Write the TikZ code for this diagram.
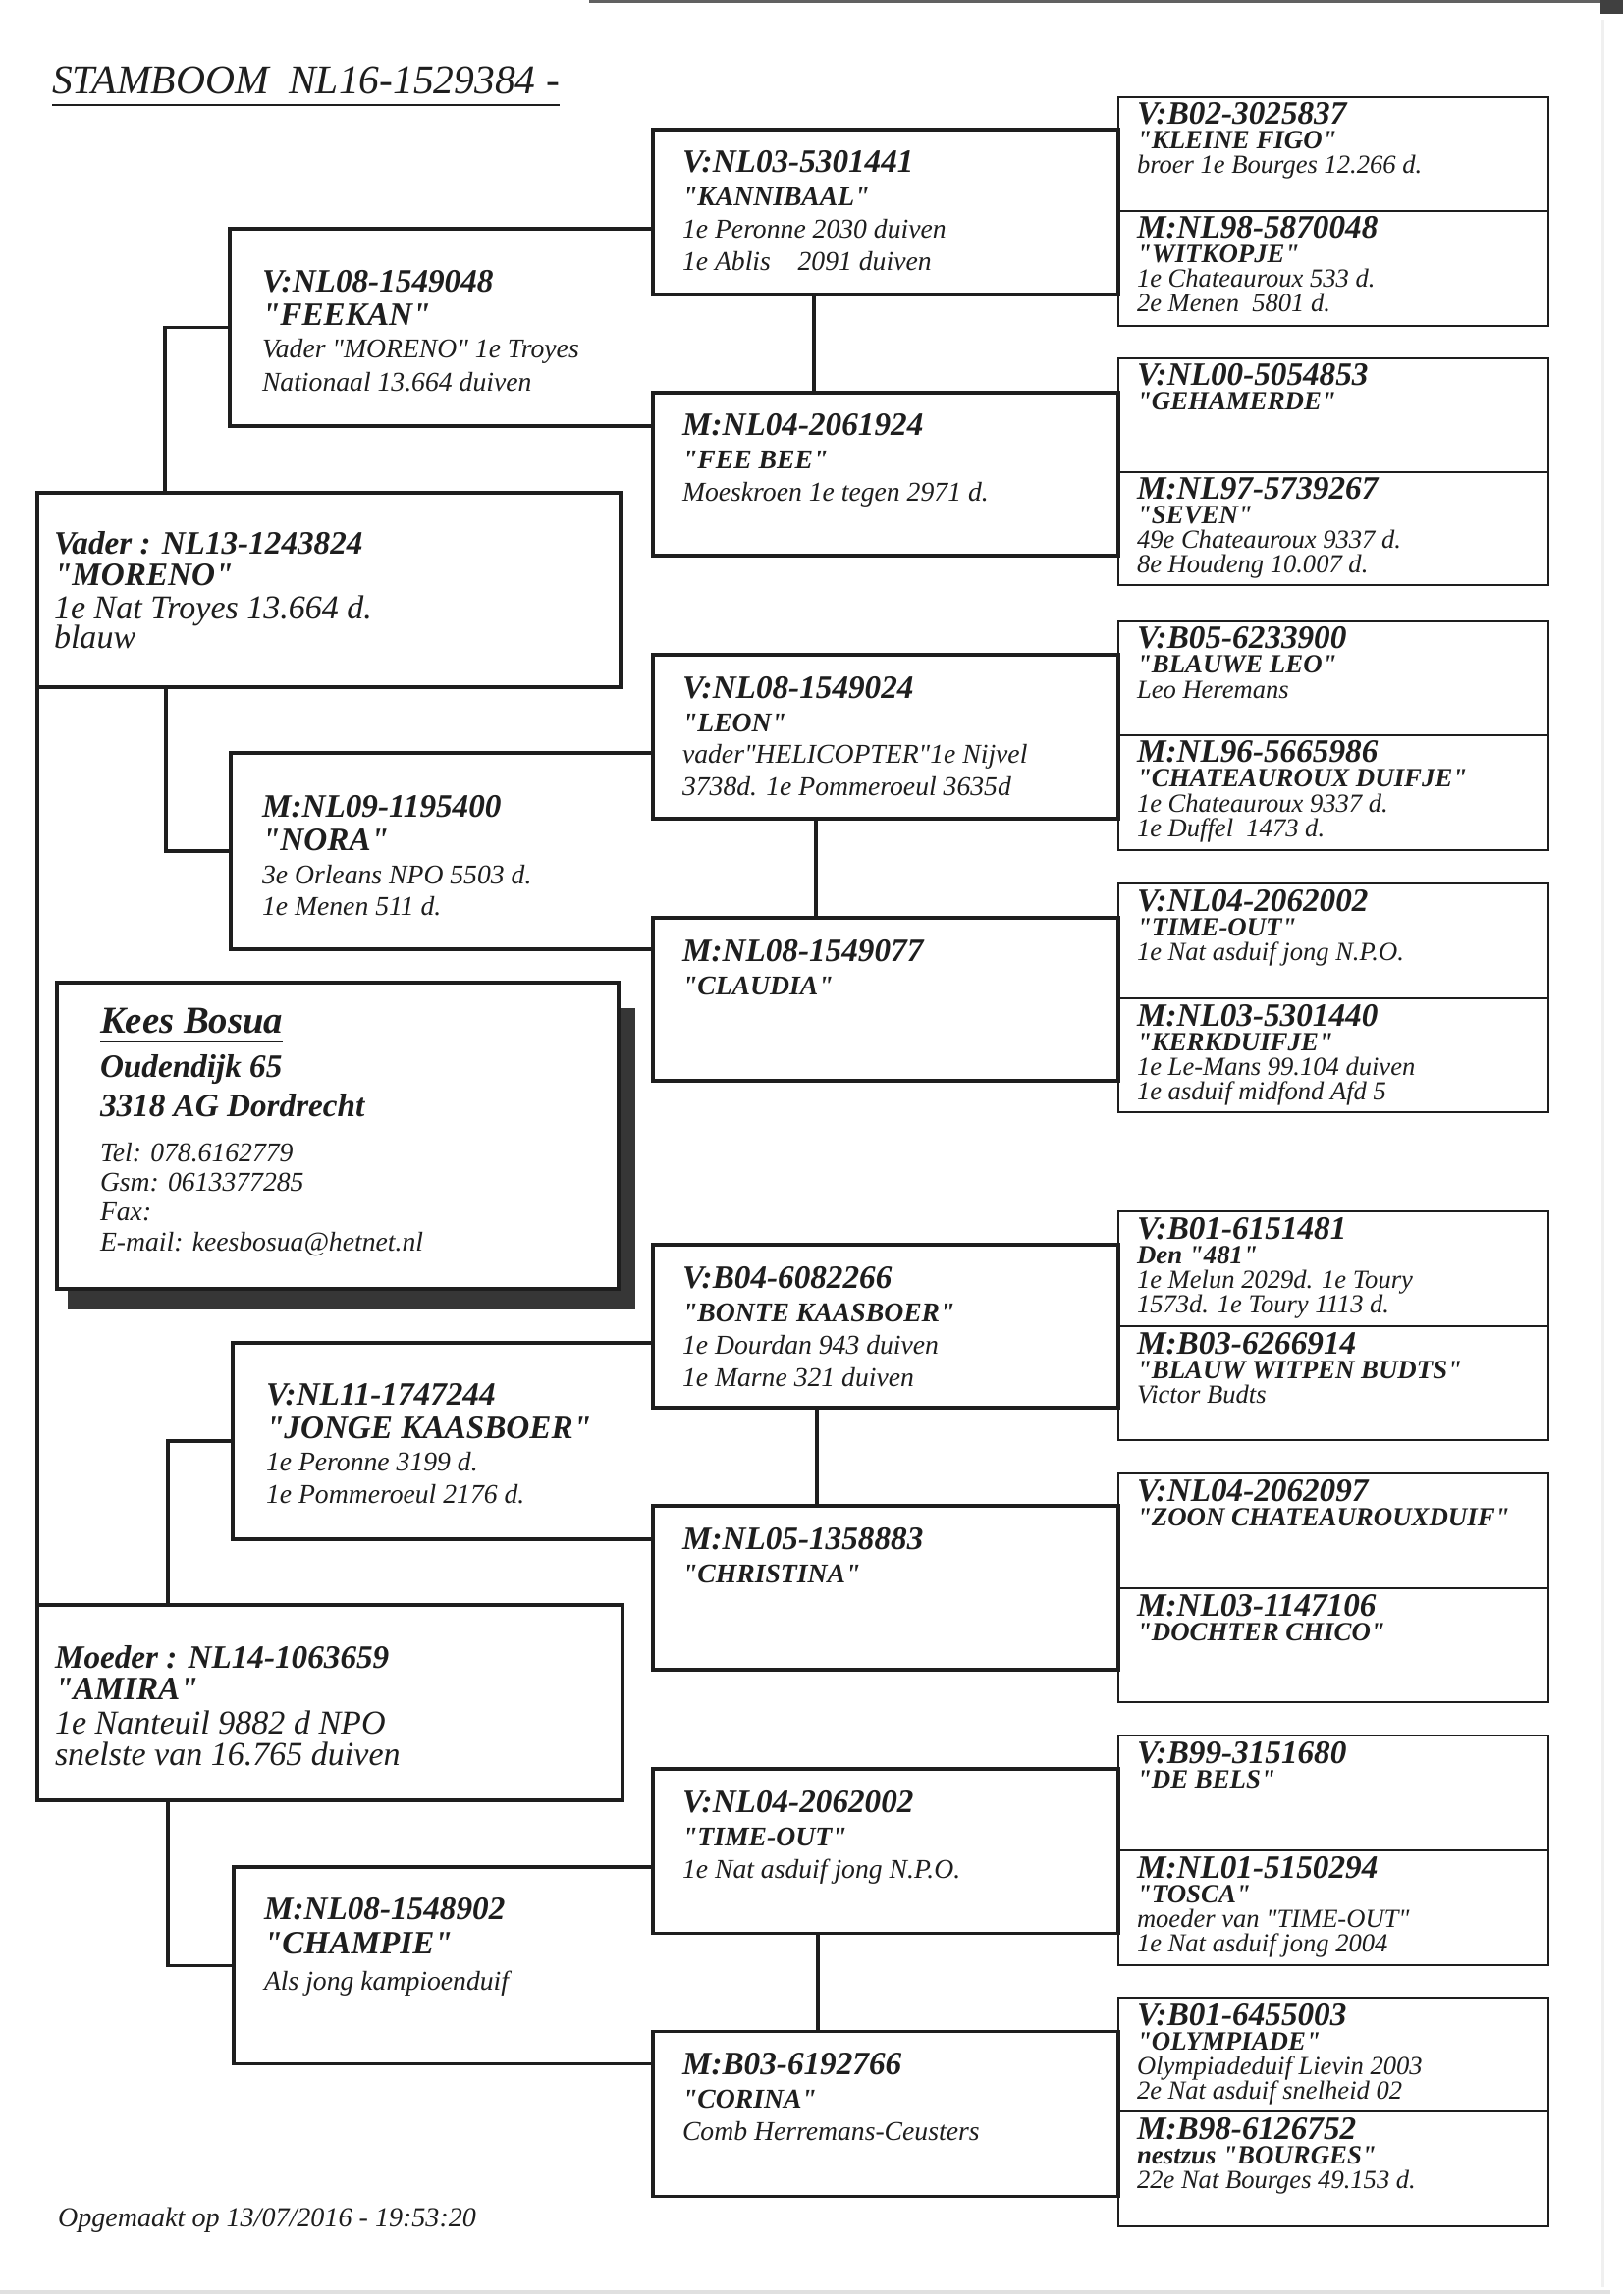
\documentclass[tikz,border=0pt]{standalone}
\usepackage{fontspec}
\setmainfont{Liberation Serif}
\newfontfamily\tnr{Liberation Serif}
\usetikzlibrary{fit,calc}
\definecolor{ink}{HTML}{1E1E1E}
\definecolor{cardshadow}{HTML}{363636}
\newcommand\fsz[1]{\tnr\fontsize{#1}{#1}\selectfont}
\tikzset{
  every node/.style={inner sep=0pt, outer sep=0pt},
  box/.style={draw=ink, line width=1.1pt},
  gbox/.style={draw=ink, line width=0.8pt},
  conn/.style={draw=ink, line width=1.1pt},
  txt/.style={anchor=base west, text=ink},
  ttl/.style={txt, font=\fsz{15}\itshape},
  foot/.style={txt, font=\fsz{10.15}\itshape},
  pid/.style={txt, font=\fsz{12}\bfseries\itshape},
  pdet/.style={txt, font=\fsz{12.3}\itshape},
  kbig/.style={txt, font=\fsz{14}\bfseries\itshape},
  kaddr/.style={txt, font=\fsz{12}\bfseries\itshape},
  ksmall/.style={txt, font=\fsz{10}\itshape},
  aid/.style={txt, font=\fsz{12}\bfseries\itshape},
  aname/.style={txt, font=\fsz{12}\bfseries\itshape},
  adet/.style={txt, font=\fsz{10}\itshape},
  bid/.style={txt, font=\fsz{12}\bfseries\itshape},
  bname/.style={txt, font=\fsz{10}\bfseries\itshape},
  bdet/.style={txt, font=\fsz{10}\itshape},
  gid/.style={txt, font=\fsz{12}\bfseries\itshape},
  gname/.style={txt, font=\fsz{9.7}\bfseries\itshape},
  gdet/.style={txt, font=\fsz{9.6}\itshape},
}
% generation-2 box: name, top, bottom, id, name line, detail 1, detail 2
\newcommand\gentwo[7]{%
  \node[box, fit={(665,#2) (1139,#3)}] (#1) {};
  \node[bid]  (#1-1) at (695,{#2+44})  {#4};
  \node[bname](#1-2) at (695,{#2+78})  {#5};
  \node[bdet] (#1-3) at (695,{#2+111}) {#6};
  \node[bdet] (#1-4) at (695,{#2+144}) {#7};
}
% generation-3 box: name, top, bottom, id, name line, detail 1, detail 2
\newcommand\genthree[7]{%
  \node[gbox, fit={(1139,#2) (1577,#3)}] (#1) {};
  \node[gid]  (#1-1) at (1158,{#2+28})  {#4};
  \node[gname](#1-2) at (1158,{#2+53})  {#5};
  \node[gdet] (#1-3) at (1158,{#2+78})  {#6};
  \node[gdet] (#1-4) at (1158,{#2+103}) {#7};
}
\begin{document}
\begin{tikzpicture}[x=0.36135pt,y=-0.36135pt]
\useasboundingbox (0,0) rectangle (1653,2339);
\fill[white] (0,0) rectangle (1653,2339);
% scan edges
\fill[ink!70] (600,0) rectangle (1653,3);
\fill[ink!85] (1630,0) rectangle (1653,14);
\fill[black!12] (0,2333) rectangle (1640,2337);
\fill[black!6] (1631,20) rectangle (1634,2330);

% title
\node[ttl] (title) at (53,96) {STAMBOOM\ \ NL16-1529384 -};
\draw[ink, line width=0.8pt] ([yshift=-4pt]title.base west) -- ([yshift=-4pt]title.base east);

% generation 3
\genthree{g1a}{99}{215}{V:B02-3025837}{"KLEINE FIGO"}{broer 1e Bourges 12.266 d.}{}
\genthree{g1b}{215}{332}{M:NL98-5870048}{"WITKOPJE"}{1e Chateauroux 533 d.}{2e Menen\ \ 5801 d.}
\genthree{g2a}{365}{481}{V:NL00-5054853}{"GEHAMERDE"}{}{}
\genthree{g2b}{481}{596}{M:NL97-5739267}{"SEVEN"}{49e Chateauroux 9337 d.}{8e Houdeng 10.007 d.}
\genthree{g3a}{633}{749}{V:B05-6233900}{"BLAUWE LEO"}{Leo Heremans}{}
\genthree{g3b}{749}{866}{M:NL96-5665986}{"CHATEAUROUX DUIFJE"}{1e Chateauroux 9337 d.}{1e Duffel\ \ 1473 d.}
\genthree{g4a}{900}{1017}{V:NL04-2062002}{"TIME-OUT"}{1e Nat asduif jong N.P.O.}{}
\genthree{g4b}{1017}{1133}{M:NL03-5301440}{"KERKDUIFJE"}{1e Le-Mans 99.104 duiven}{1e asduif midfond Afd 5}
\genthree{g5a}{1234}{1351}{V:B01-6151481}{Den "481"}{1e Melun 2029d. 1e Toury}{1573d. 1e Toury 1113 d.}
\genthree{g5b}{1351}{1467}{M:B03-6266914}{"BLAUW WITPEN BUDTS"}{Victor Budts}{}
\genthree{g6a}{1501}{1618}{V:NL04-2062097}{"ZOON CHATEAUROUXDUIF"}{}{}
\genthree{g6b}{1618}{1734}{M:NL03-1147106}{"DOCHTER CHICO"}{}{}
\genthree{g7a}{1768}{1885}{V:B99-3151680}{"DE BELS"}{}{}
\genthree{g7b}{1885}{2002}{M:NL01-5150294}{"TOSCA"}{moeder van "TIME-OUT"}{1e Nat asduif jong 2004}
\genthree{g8a}{2035}{2151}{V:B01-6455003}{"OLYMPIADE"}{Olympiadeduif Lievin 2003}{2e Nat asduif snelheid 02}
\genthree{g8b}{2151}{2268}{M:B98-6126752}{nestzus "BOURGES"}{22e Nat Bourges 49.153 d.}{}

% generation 2
\gentwo{kannibaal}{132}{300}{V:NL03-5301441}{"KANNIBAAL"}{1e Peronne 2030 duiven}{1e Ablis\ \ \ \ 2091 duiven}
\gentwo{feebee}{400}{566}{M:NL04-2061924}{"FEE BEE"}{Moeskroen 1e tegen 2971 d.}{}
\gentwo{leon}{667}{834}{V:NL08-1549024}{"LEON"}{vader"HELICOPTER"1e Nijvel}{3738d. 1e Pommeroeul 3635d}
\gentwo{claudia}{935}{1101}{M:NL08-1549077}{"CLAUDIA"}{}{}
\gentwo{bonte}{1268}{1434}{V:B04-6082266}{"BONTE KAASBOER"}{1e Dourdan 943 duiven}{1e Marne 321 duiven}
\gentwo{christina}{1534}{1701}{M:NL05-1358883}{"CHRISTINA"}{}{}
\gentwo{timeout}{1802}{1969}{V:NL04-2062002}{"TIME-OUT"}{1e Nat asduif jong N.P.O.}{}
\gentwo{corina}{2069}{2237}{M:B03-6192766}{"CORINA"}{Comb Herremans-Ceusters}{}

\draw[conn] ($(kannibaal.south west)+(164,0)$) -- ($(feebee.north west)+(164,0)$);
\draw[conn] ($(leon.south west)+(166,0)$) -- ($(claudia.north west)+(166,0)$);
\draw[conn] ($(bonte.south west)+(167,0)$) -- ($(christina.north west)+(167,0)$);
\draw[conn] ($(timeout.south west)+(168,0)$) -- ($(corina.north west)+(168,0)$);

% generation 1 (open on the right)
\node[fit={(234,233) (665,434)}] (feekan) {};
\node[fit={(235,767) (665,967)}] (nora) {};
\node[fit={(237,1368) (665,1568)}] (jonge) {};
\node[fit={(238,1902) (665,2102)}] (champie) {};
\foreach \b in {feekan,nora,jonge,champie}
  \draw[conn] (\b.north east) -- (\b.north west) -- (\b.south west) -- (\b.south east);

\node[aid]   (feekan-1) at (267,298) {V:NL08-1549048};
\node[aname] (feekan-2) at (267,332) {"FEEKAN"};
\node[adet]  (feekan-3) at (267,365) {Vader "MORENO" 1e Troyes};
\node[adet]  (feekan-4) at (267,399) {Nationaal 13.664 duiven};

\node[aid]   (nora-1) at (267,832) {M:NL09-1195400};
\node[aname] (nora-2) at (267,866) {"NORA"};
\node[adet]  (nora-3) at (267,900) {3e Orleans NPO 5503 d.};
\node[adet]  (nora-4) at (267,932) {1e Menen 511 d.};

\node[aid]   (jonge-1) at (271,1431) {V:NL11-1747244};
\node[aname] (jonge-2) at (271,1465) {"JONGE KAASBOER"};
\node[adet]  (jonge-3) at (271,1498) {1e Peronne 3199 d.};
\node[adet]  (jonge-4) at (271,1531) {1e Pommeroeul 2176 d.};

\node[aid]   (champie-1) at (269,1955) {M:NL08-1548902};
\node[aname] (champie-2) at (269,1990) {"CHAMPIE"};
\node[adet]  (champie-3) at (269,2027) {Als jong kampioenduif};

% parents
\node[box, fit={(38,502) (632,700)}] (vader) {};
\node[pid]  (vader-1) at (55,565) {Vader : NL13-1243824};
\node[pid]  (vader-2) at (55,597) {"MORENO"};
\node[pdet] (vader-3) at (55,631) {1e Nat Troyes 13.664 d.};
\node[pdet] (vader-4) at (55,661) {blauw};

\node[box, fit={(38,1635) (634,1834)}] (moeder) {};
\node[pid]  (moeder-1) at (56,1699) {Moeder : NL14-1063659};
\node[pid]  (moeder-2) at (56,1731) {"AMIRA"};
\node[pdet] (moeder-3) at (56,1766) {1e Nanteuil 9882 d NPO};
\node[pdet] (moeder-4) at (56,1798) {snelste van 16.765 duiven};

\draw[conn] ($(vader.north west)+(130,0)$) |- (feekan.west);
\draw[conn] ($(vader.south west)+(131,0)$) |- (nora.west);
\draw[conn] ($(moeder.north west)+(133,0)$) |- (jonge.west);
\draw[conn] ($(moeder.south west)+(133,0)$) |- (champie.west);
\draw[conn] (vader.south west) -- (moeder.north west);

% breeder card
\fill[cardshadow] (69,1027) rectangle (647,1334);
\node[box, fill=white, fit={(58,1001) (630,1313)}] (kees) {};
\node[kbig]   (kees-1) at (102,1052) {Kees Bosua};
\draw[ink, line width=0.8pt] ([yshift=-3.2pt]kees-1.base west) -- ([yshift=-3.2pt]kees-1.base east);
\node[kaddr]  (kees-2) at (102,1097) {Oudendijk 65};
\node[kaddr]  (kees-3) at (102,1137) {3318 AG Dordrecht};
\node[ksmall] (kees-4) at (102,1183) {Tel: 078.6162779};
\node[ksmall] (kees-5) at (102,1213) {Gsm: 0613377285};
\node[ksmall] (kees-6) at (102,1243) {Fax:};
\node[ksmall] (kees-7) at (102,1274) {E-mail: keesbosua@hetnet.nl};

% footer
\node[foot] (footer) at (59,2268) {Opgemaakt op 13/07/2016 - 19:53:20};
\end{tikzpicture}
\end{document}
